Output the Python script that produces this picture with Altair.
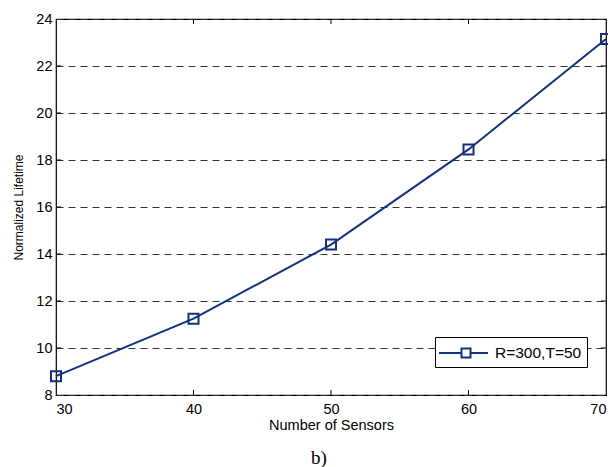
import altair as alt
import pandas as pd

sensors = [30, 40, 50, 60, 70]
lifetime = [8.8, 11.25, 14.4, 18.45, 23.15]
series = ["R=300,T=50"] * 5
x_ticks = [30, 40, 50, 60, 70]
y_ticks = [8, 10, 12, 14, 16, 18, 20, 22, 24]
inner_x_ticks = [40, 50, 60]
inner_y_ticks = [10, 12, 14, 16, 18, 20, 22]
caption = ["b)"]

df = pd.DataFrame({"sensors": sensors, "lifetime": lifetime, "series": series})
NAVY = "#14307f"
W, H = 550, 376

x = alt.X("sensors:Q", scale=alt.Scale(domain=[30, 70], nice=False),
          axis=alt.Axis(values=x_ticks, title="Number of Sensors", grid=False, ticks=False,
                        domain=False, labelPadding=7, titlePadding=3))
y = alt.Y("lifetime:Q", scale=alt.Scale(domain=[8, 24], nice=False),
          axis=alt.Axis(values=y_ticks, title="Normalized Lifetime", grid=True, gridDash=[7, 5],
                        gridColor="#333333", gridOpacity=1, ticks=False, domain=False,
                        labelPadding=4, titlePadding=10, titleFontSize=12))

sym = "M-2.4,0H-0.15M0.75,0H2.5M-0.15,-0.45H0.75V0.45H-0.15Z"

line = alt.Chart(df).mark_line(strokeWidth=2).encode(
    x=x, y=y,
    color=alt.Color("series:N", scale=alt.Scale(range=[NAVY]),
                    legend=alt.Legend(title=None, orient="none", legendX=379, legendY=318,
                                      symbolType=sym, symbolSize=400, symbolStrokeWidth=2,
                                      symbolOffset=12,
                                      symbolFillColor="transparent", symbolStrokeColor=NAVY,
                                      labelFont="Liberation Sans", labelFontSize=15.5,
                                      labelColor="black", strokeColor="black", fillColor="white",
                                      padding=5, labelOffset=21))
)
points = alt.Chart(df).mark_point(shape="square", filled=False, size=100, strokeWidth=2,
                                  color=NAVY, opacity=1).encode(x="sensors:Q", y="lifetime:Q")

tdf = pd.DataFrame({"sensors": inner_x_ticks})
ticks_b = alt.Chart(tdf).mark_rule(color="black").encode(
    x="sensors:Q", y=alt.value(H), y2=alt.value(H - 5))
ticks_t = alt.Chart(tdf).mark_rule(color="black").encode(
    x="sensors:Q", y=alt.value(0), y2=alt.value(5))
ydf = pd.DataFrame({"lifetime": inner_y_ticks})
ticks_l = alt.Chart(ydf).mark_rule(color="black").encode(
    y="lifetime:Q", x=alt.value(0), x2=alt.value(5))
ticks_r = alt.Chart(ydf).mark_rule(color="black").encode(
    y="lifetime:Q", x=alt.value(W - 5), x2=alt.value(W))

cap = alt.Chart(pd.DataFrame({"cap": caption})).mark_text(
    font="Liberation Serif", fontSize=19, color="black", align="center").encode(
    text="cap:N", x=alt.value(263), y=alt.value(439))

chart = alt.layer(line, points, ticks_b, ticks_t, ticks_l, ticks_r, cap).properties(
    width=W, height=H,
    padding={"left": 48, "top": 11, "right": 2, "bottom": 72},
    autosize=alt.AutoSizeParams(type="none"),
    background="white",
).configure_view(stroke="black", strokeWidth=1.2).configure_axis(
    labelFont="Liberation Sans", labelFontSize=14.5, titleFont="Liberation Sans",
    titleFontSize=14.5, titleFontWeight="normal", labelColor="black", titleColor="black")

chart.save("out.html", embed_options={"renderer": "svg", "actions": False})
